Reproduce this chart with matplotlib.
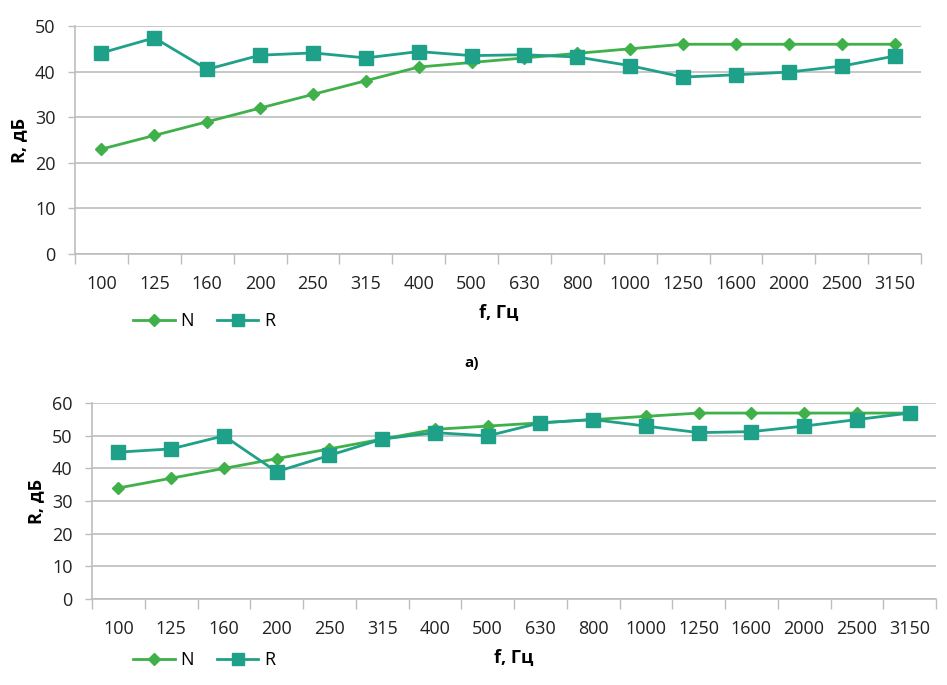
#!/usr/bin/env python3
import matplotlib
matplotlib.use("Agg")
import matplotlib.pyplot as plt
from matplotlib.ticker import FixedLocator, NullFormatter, FixedFormatter

plt.rcParams['font.family'] = ['Open Sans', 'DejaVu Sans']

# Frequency bands, Hz
freqs = ["100", "125", "160", "200", "250", "315", "400", "500", "630",
         "800", "1000", "1250", "1600", "2000", "2500", "3150"]

# Chart a)
n_top = [23, 26, 29, 32, 35, 38, 41, 42, 43, 44, 45, 46, 46, 46, 46, 46]
r_top = [44.1, 47.4, 40.5, 43.6, 44.1, 43.0, 44.4, 43.5, 43.7, 43.2,
         41.3, 38.8, 39.3, 39.9, 41.2, 43.4]

# Chart b)
n_bot = [34, 37, 40, 43, 46, 49, 52, 53, 54, 55, 56, 57, 57, 57, 57, 57]
r_bot = [45, 46, 50, 39, 44, 49, 51, 50, 54, 55, 53, 51, 51.3, 53, 55, 57]

GREEN = '#3fb04a'
TEAL = '#1fa088'
GRID = '#bdbdbd'
FS = 13


def draw_panel(ax, n_vals, r_vals, ymax, legend_xy, xlabel_xy):
    x = list(range(len(freqs)))
    ax.plot(x, n_vals, color=GREEN, lw=2.0, marker='D', ms=6.5, label='N', zorder=3)
    ax.plot(x, r_vals, color=TEAL, lw=2.0, marker='s', ms=10, label='R', zorder=4)

    ax.set_xlim(-0.5, len(freqs) - 0.5)
    ax.set_ylim(0, ymax)
    ax.set_yticks(range(0, ymax + 1, 10))
    ax.yaxis.grid(True, color=GRID, lw=1.2)
    ax.set_axisbelow(True)

    # category boundaries as major ticks, labels on minor ticks
    ax.xaxis.set_major_locator(FixedLocator([i - 0.5 for i in range(len(freqs) + 1)]))
    ax.xaxis.set_major_formatter(NullFormatter())
    ax.xaxis.set_minor_locator(FixedLocator(x))
    ax.xaxis.set_minor_formatter(FixedFormatter(freqs))
    ax.tick_params(axis='x', which='major', length=7, width=1, color=GRID, direction='out')
    ax.tick_params(axis='x', which='minor', length=0, pad=15, labelsize=FS, labelcolor='#222222')
    ax.tick_params(axis='y', length=5, width=1, color=GRID, pad=9, labelsize=FS, labelcolor='#222222')

    for side in ('top', 'right'):
        ax.spines[side].set_visible(False)
    for side in ('left', 'bottom'):
        ax.spines[side].set_color(GRID)
        ax.spines[side].set_linewidth(1.2)

    ax.set_ylabel('R, дБ', fontsize=FS, fontweight='bold', labelpad=5)

    fig = ax.figure
    fig.text(xlabel_xy[0], xlabel_xy[1], 'f, Гц', fontsize=FS, fontweight='bold',
             ha='left', va='center')
    ax.legend(loc='center left', bbox_to_anchor=legend_xy, bbox_transform=fig.transFigure,
              ncol=2, frameon=False, fontsize=FS, handlelength=2.3, handletextpad=0.3,
              columnspacing=1.3, borderaxespad=0, borderpad=0, markerscale=0.9)


fig = plt.figure(figsize=(9.47, 6.85), dpi=100)

ax_top = fig.add_axes([75 / 947, 1 - 254 / 685, 846 / 947, 228 / 685])
draw_panel(ax_top, n_top, r_top, 50, (133 / 947, 1 - 321 / 685), (479 / 947, 1 - 313 / 685))

ax_bot = fig.add_axes([92 / 947, 1 - 598.7 / 685, 844 / 947, 195.4 / 685])
draw_panel(ax_bot, n_bot, r_bot, 60, (133 / 947, 1 - 660 / 685), (494 / 947, 1 - 658 / 685))

fig.text(472 / 947, 1 - 363 / 685, 'а)', fontsize=11, fontweight='bold', ha='center', va='center')

fig.savefig('out.png', dpi=100)
